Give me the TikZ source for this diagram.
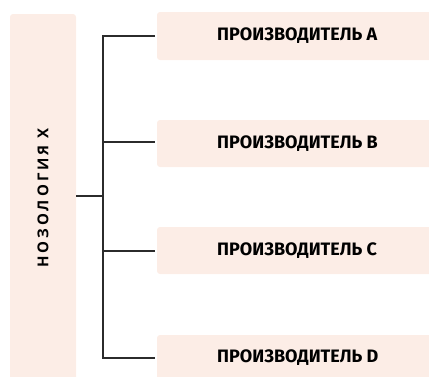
\documentclass[tikz,border=0pt]{standalone}
\usepackage{fontspec}
\setmainfont{Open Sans}
\newfontfamily\headfont{Open Sans}[LetterSpace=20]
\newfontfamily\itemfont{Fira Sans}
\definecolor{boxfill}{HTML}{FCEDE6}
\definecolor{linkcol}{HTML}{2B2B2B}
\begin{document}
\begin{tikzpicture}[x=1pt,y=-1pt,
  panel/.style={fill=boxfill,rounded corners=3pt},
  link/.style={draw=linkcol,line width=1.2pt},
  itemlabel/.style={anchor=west,inner sep=0pt,font=\itemfont\bfseries\fontsize{18}{20}\selectfont}]
\useasboundingbox (0,0) rectangle (429,376);
\clip (0,0) rectangle (429,376);
% left column
\fill[panel] (10,14) rectangle (76,386);
\node[rotate=90,inner sep=0pt,font=\headfont\bfseries\fontsize{15}{17}\selectfont] (root) at (43,198) {НОЗОЛОГИЯ Х};
% producer panels
\fill[panel] (157,12) rectangle (440,60);
\fill[panel] (157,120) rectangle (440,167);
\fill[panel] (157,227) rectangle (440,274);
\fill[panel] (157,335) rectangle (440,386);
\node[itemlabel] (pa) at (217,36) {ПРОИЗВОДИТЕЛЬ A};
\node[itemlabel] (pb) at (217,143.5) {ПРОИЗВОДИТЕЛЬ B};
\node[itemlabel] (pc) at (217,250.5) {ПРОИЗВОДИТЕЛЬ C};
\node[itemlabel] (pd) at (217,358) {ПРОИЗВОДИТЕЛЬ D};
% tree connectors
\coordinate (rootout) at (76,196);
\coordinate (trunk) at (103,196);
\coordinate (ea) at (155,36);
\coordinate (eb) at (155,142);
\coordinate (ec) at (155,251);
\coordinate (ed) at (155,358);
\draw[link] (rootout) -- (trunk);
\draw[link] (ea) -- (ea -| trunk) -- (ed -| trunk) -- (ed);
\draw[link] (eb -| trunk) -- (eb);
\draw[link] (ec -| trunk) -- (ec);
\end{tikzpicture}
\end{document}
